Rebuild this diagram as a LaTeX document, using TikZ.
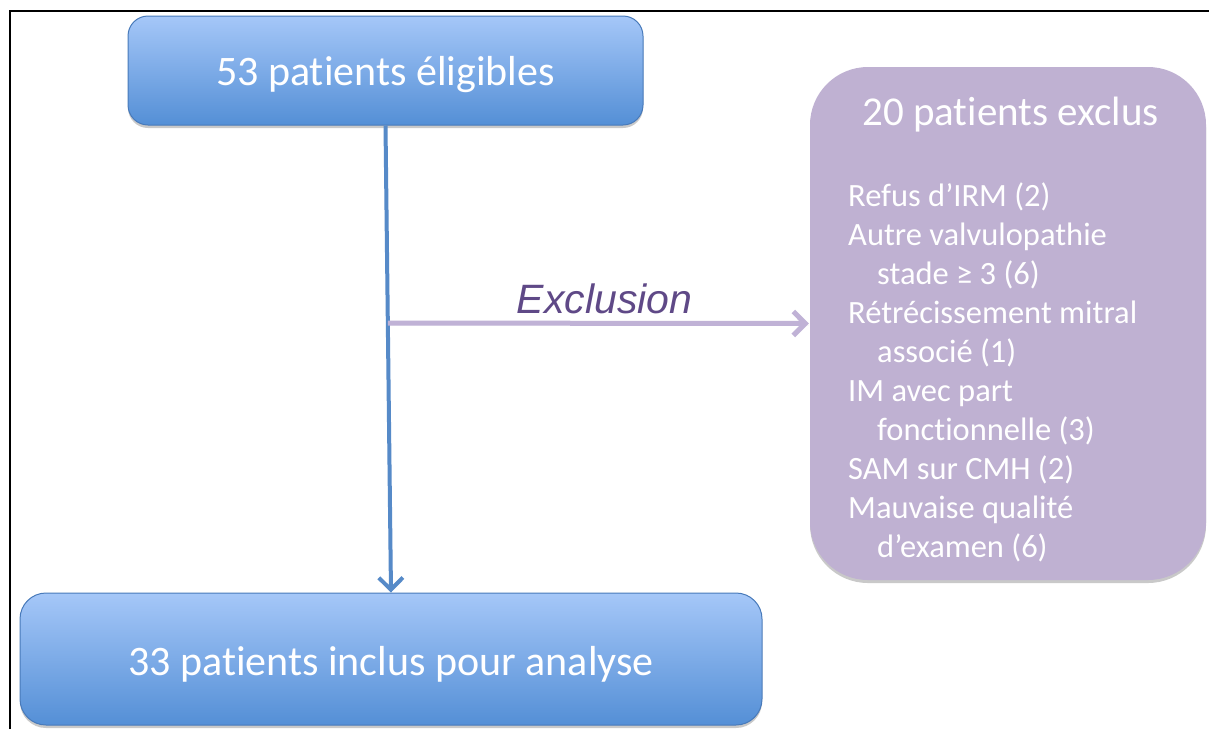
\documentclass[tikz,border=0pt]{standalone}
\usepackage{fontspec}
\setmainfont{Carlito}[Ligatures=NoCommon]
\newfontfamily\arialfont{Liberation Sans}
\usetikzlibrary{arrows.meta,shadows,calc}
\definecolor{bluetop}{RGB}{165,199,248}
\definecolor{bluebot}{RGB}{84,143,214}
\definecolor{blueedge}{RGB}{72,122,186}
\definecolor{blueline}{RGB}{86,138,200}
\definecolor{purplefill}{RGB}{191,177,210}
\definecolor{purpleline}{RGB}{192,178,214}
\definecolor{purpletext}{RGB}{95,73,135}
\tikzset{
  bluebox/.style={draw=blueedge, line width=1pt, top color=bluetop, bottom color=bluebot,
    text=white, inner sep=0pt,
    drop shadow={shadow xshift=0pt, shadow yshift=-3pt, opacity=0.35, fill=black!60},
    font=\fontsize{42pt}{50pt}\selectfont},
  purplebox/.style={fill=purplefill, draw=none, inner sep=0pt, rounded corners=58pt,
    drop shadow={shadow xshift=0pt, shadow yshift=-3pt, opacity=0.35, fill=black!60}},
  whitetext/.style={text=white, inner sep=0pt},
  flowarrow/.style={line width=4pt, draw=blueline, -{Straight Barb[length=12pt,width=24pt]}},
  exclarrow/.style={line width=5pt, draw=purpleline, -{Straight Barb[length=12pt,width=24pt]},
    drop shadow={shadow xshift=0pt, shadow yshift=-2pt, opacity=0.3, fill=black!60}},
}
\begin{document}
\begin{tikzpicture}[x=1pt,y=-1pt]
\useasboundingbox (0,0) rectangle (1209,729);
\fill[white] (0,0) rectangle (1209,729);
% frame
\coordinate (fbl) at (10,729);
\coordinate (ftl) at (10,11);
\coordinate (ftr) at (1209,11);
\draw[line width=2pt, black] (fbl) -- (ftl) -- (ftr);

\node[bluebox, rounded corners=20pt, minimum width=515pt, minimum height=109pt,
      text height=29pt, text depth=0pt] (top) at (385.5,70.5) {53 patients éligibles};
\node[bluebox, rounded corners=26pt, minimum width=742pt, minimum height=132pt,
      text height=32pt, text depth=0pt] (bot) at (391,659) {33 patients inclus pour analyse};
\node[purplebox, minimum width=396pt, minimum height=513pt] (excl) at (1008,323.5) {};

\node[whitetext, anchor=base, font=\fontsize{41pt}{49pt}\selectfont] (excltitle) at (1010.5,125) {20 patients exclus};
\node[whitetext, anchor=base west, align=left, font=\fontsize{32.5pt}{38.9pt}\selectfont] (excllist) at (848,557) {Refus d’IRM (2)\\
Autre valvulopathie\\
\hspace*{29pt}stade ≥ 3 (6)\\
Rétrécissement mitral\\
\hspace*{29pt}associé (1)\\
IM avec part\\
\hspace*{29pt}fonctionnelle (3)\\
SAM sur CMH (2)\\
Mauvaise qualité\\
\hspace*{29pt}d’examen (6)};

\draw[flowarrow] (top.south) -- (bot.north);
\coordinate (branch) at ($(top.south)!0.423!(bot.north)$);
\draw[exclarrow] (branch) -- ($(excl.west)+(-1,0)$);
\node[anchor=base, inner sep=0pt, text=purpletext, font=\arialfont\itshape\fontsize{41pt}{49pt}\selectfont] (excllabel) at (604.5,313) {Exclusion};
\end{tikzpicture}
\end{document}
